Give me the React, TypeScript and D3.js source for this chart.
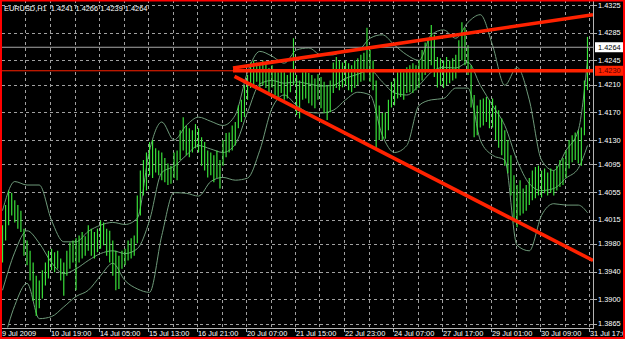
import React from "react";
import * as d3 from "d3";

const W = 625;
const H = 339;

const titleText = "EURUSD,H1  1.4241 1.4266 1.4239 1.4264";
const priceTicks = [1.4325, 1.4285, 1.4245, 1.421, 1.417, 1.413, 1.4095, 1.4055, 1.4015, 1.398, 1.394, 1.39, 1.3865];
const timeLabels = ["9 Jul 2009", "10 Jul 19:00", "14 Jul 05:00", "15 Jul 13:00", "16 Jul 21:00", "20 Jul 07:00", "21 Jul 15:00", "22 Jul 23:00", "24 Jul 07:00", "27 Jul 17:00", "29 Jul 01:00", "30 Jul 09:00", "31 Jul 17:00"];
const timeLabelBars = [0, 32, 64, 96, 128, 160, 192, 224, 256, 288, 320, 352, 384];
const bidPrice = 1.4264;
const hLinePrice = 1.423;

// H1 bars, every second bar (bar index = 2i+1)
const highs = [
  1.4007, 1.4036, 1.4057, 1.4054, 1.4043, 1.4036, 1.4028, 1.4002, 1.3985, 1.397,
  1.3953, 1.3934, 1.3927, 1.3942, 1.3953, 1.397, 1.3973, 1.3968, 1.397, 1.3959,
  1.3953, 1.397, 1.3982, 1.3985, 1.3988, 1.3992, 1.3997, 1.3991, 1.4007, 1.4002,
  1.3997, 1.4002, 1.4014, 1.4011, 1.4002, 1.3999, 1.3985, 1.397, 1.3963, 1.397,
  1.3973, 1.3985, 1.3988, 1.3992, 1.405, 1.4086, 1.4101, 1.4112, 1.4127, 1.413,
  1.4118, 1.4115, 1.4112, 1.4104, 1.4096, 1.4093, 1.4112, 1.4115, 1.4144, 1.4163,
  1.4151, 1.4147, 1.4144, 1.4153, 1.4147, 1.4134, 1.4127, 1.4115, 1.4112, 1.4108,
  1.4115, 1.4101, 1.413, 1.414, 1.4141, 1.4151, 1.4156, 1.418, 1.4188, 1.4209,
  1.4224, 1.4242, 1.4245, 1.4242, 1.4238, 1.4245, 1.4241, 1.4234, 1.4238, 1.4231,
  1.4228, 1.4231, 1.4228, 1.4224, 1.4231, 1.4277, 1.4224, 1.4216, 1.4228, 1.4231,
  1.4227, 1.4224, 1.4219, 1.4225, 1.4221, 1.4214, 1.4209, 1.4216, 1.4242, 1.425,
  1.4245, 1.4242, 1.4245, 1.4241, 1.4238, 1.4245, 1.4248, 1.4253, 1.4256, 1.4292,
  1.426, 1.4245, 1.4216, 1.418, 1.4169, 1.417, 1.4188, 1.4214, 1.4219, 1.4228,
  1.4231, 1.4228, 1.4235, 1.4238, 1.4241, 1.4238, 1.4245, 1.426, 1.4271, 1.4274,
  1.4296, 1.4282, 1.425, 1.4248, 1.4245, 1.425, 1.4245, 1.4248, 1.4253, 1.4274,
  1.43, 1.4292, 1.4267, 1.4238, 1.4195, 1.418, 1.4188, 1.419, 1.4192, 1.4188,
  1.419, 1.418, 1.4173, 1.4161, 1.4144, 1.413, 1.4108, 1.4079, 1.4065, 1.4072,
  1.406, 1.4065, 1.4075, 1.4086, 1.4091, 1.4093, 1.4086, 1.4089, 1.4083, 1.4089,
  1.4086, 1.4093, 1.4101, 1.4104, 1.4115, 1.413, 1.4137, 1.4141, 1.4144, 1.4148,
  1.4216, 1.4279,
];
const lows = [
  1.3953, 1.3985, 1.4007, 1.4021, 1.4011, 1.4002, 1.3997, 1.3963, 1.3949, 1.3927,
  1.3898, 1.3876, 1.3887, 1.3901, 1.392, 1.393, 1.3942, 1.3939, 1.3944, 1.3927,
  1.3905, 1.3934, 1.3944, 1.3953, 1.3913, 1.3953, 1.3959, 1.3963, 1.397, 1.3963,
  1.3959, 1.3968, 1.3973, 1.3978, 1.3963, 1.3953, 1.3934, 1.3913, 1.3915, 1.3944,
  1.3949, 1.3956, 1.3959, 1.3963, 1.3981, 1.4021, 1.405, 1.4057, 1.4079, 1.4075,
  1.4083, 1.4079, 1.4072, 1.4069, 1.4065, 1.4067, 1.4075, 1.4072, 1.4101, 1.4115,
  1.4108, 1.4105, 1.4112, 1.4118, 1.4112, 1.4093, 1.4086, 1.4076, 1.4079, 1.4069,
  1.4075, 1.406, 1.4093, 1.4105, 1.4112, 1.4115, 1.4122, 1.4147, 1.4156, 1.4163,
  1.4188, 1.4205, 1.4209, 1.4214, 1.4202, 1.4209, 1.4205, 1.4199, 1.4206, 1.4195,
  1.4192, 1.4198, 1.4188, 1.419, 1.4199, 1.4209, 1.4166, 1.4161, 1.4188, 1.419,
  1.4183, 1.418, 1.4176, 1.4188, 1.4176, 1.4169, 1.4159, 1.417, 1.4198, 1.4205,
  1.4202, 1.4206, 1.4209, 1.4202, 1.4199, 1.4205, 1.4209, 1.4214, 1.4216, 1.4228,
  1.4214, 1.4202, 1.4119, 1.413, 1.413, 1.4132, 1.4144, 1.4177, 1.418, 1.419,
  1.4192, 1.4188, 1.4198, 1.4199, 1.4198, 1.4202, 1.4205, 1.4216, 1.4224, 1.4228,
  1.4238, 1.4221, 1.4206, 1.4209, 1.4205, 1.4209, 1.4212, 1.4216, 1.4219, 1.4228,
  1.4245, 1.4238, 1.4224, 1.4177, 1.4134, 1.4137, 1.4148, 1.4151, 1.4156, 1.4147,
  1.4148, 1.413, 1.4119, 1.4108, 1.4093, 1.4082, 1.405, 1.4011, 1.4004, 1.4021,
  1.4024, 1.4028, 1.4036, 1.4043, 1.4046, 1.405, 1.4047, 1.4053, 1.405, 1.4054,
  1.405, 1.4057, 1.4062, 1.4065, 1.4075, 1.4089, 1.4098, 1.4101, 1.4096, 1.4093,
  1.4137, 1.4202,
];

// Bollinger bands, sampled every 8 bars
const bbUpper = [
  1.4028, 1.407, 1.4065, 1.4065, 1.4014, 1.3983, 1.3983, 1.3998, 1.4007, 1.4011,
  1.4008, 1.4017, 1.4115, 1.4156, 1.413, 1.4151, 1.4163, 1.4157, 1.4151, 1.4166,
  1.4228, 1.4258, 1.4251, 1.4241, 1.426, 1.4263, 1.4253, 1.4253, 1.426, 1.426,
  1.4277, 1.4282, 1.4267, 1.4253, 1.4245, 1.4282, 1.4289, 1.4277, 1.43, 1.4311,
  1.4267, 1.4209, 1.4235, 1.4188, 1.4101, 1.4086, 1.4115, 1.4144, 1.4245,
];
const bbMiddle = [
  1.3913, 1.3968, 1.3999, 1.3981, 1.3953, 1.3937, 1.3944, 1.3956, 1.3966, 1.397,
  1.3966, 1.3973, 1.4014, 1.4083, 1.4092, 1.4108, 1.4122, 1.4117, 1.4112, 1.4124,
  1.417, 1.4211, 1.4216, 1.4212, 1.4214, 1.4211, 1.4208, 1.4209, 1.4219, 1.4225,
  1.4231, 1.4214, 1.4198, 1.4195, 1.4209, 1.4228, 1.4235, 1.4234, 1.4242, 1.4209,
  1.418, 1.4151, 1.4101, 1.4067, 1.4057, 1.406, 1.4075, 1.4089, 1.4122,
];
const bbLower = [
  1.3833, 1.3891, 1.3923, 1.3872, 1.3875, 1.3889, 1.3904, 1.3913, 1.3934, 1.3952,
  1.3927, 1.3915, 1.391, 1.3992, 1.4054, 1.4053, 1.4049, 1.407, 1.4076, 1.4072,
  1.4075, 1.4115, 1.4176, 1.4195, 1.418, 1.417, 1.4169, 1.4173, 1.4188, 1.4199,
  1.4195, 1.4137, 1.4112, 1.4122, 1.418, 1.4188, 1.419, 1.4205, 1.4205, 1.413,
  1.4108, 1.4101, 1.3978, 1.397, 1.4021, 1.4038, 1.4036, 1.4036, 1.4025,
];

// Trend lines drawn on the chart (bar index / price)
const trendStartBar = [151.5, 151.5, 152.5];
const trendStartPrice = [1.4234, 1.423, 1.4222];
const trendEndBar = [386.6, 386.6, 386.6];
const trendEndPrice = [1.4311, 1.423, 1.3956];

const FONT = "'Liberation Sans', Arial, sans-serif";

export default function App() {
  const plotL = 2;
  const plotR = 593;
  const plotT = 0;
  const plotB = 327.5;

  const x = d3.scaleLinear().domain([0, 384]).range([1, 589]);
  const y = d3.scaleLinear().domain([1.3865, 1.4325]).range([323.5, 5]);

  const bandBar = (k: number) => Math.min(1 + 8 * k, 383);
  const bandLine = d3
    .line<number>()
    .x((_, k) => x(bandBar(k)))
    .y((v) => y(v))
    .curve(d3.curveMonotoneX);

  const vGrid = d3.range(16, 385, 16);

  const bgColor = "#000000";
  const gridColor = "#a0a0a0";
  const bandColor = "#6f9a7a";
  const barColor = "#3be83b";
  const red = "#ff2200";

  return (
    <svg
      width={W}
      height={H}
      viewBox={`0 0 ${W} ${H}`}
      style={{ position: "absolute", left: 0, top: 0, display: "block" }}
    >
      <defs>
        <clipPath id="plot">
          <rect x={plotL} y={plotT} width={plotR - plotL} height={plotB - plotT} />
        </clipPath>
      </defs>
      <rect x={0} y={0} width={W} height={H} fill={bgColor} />

      {/* grid */}
      <g stroke={gridColor} strokeWidth={1} strokeDasharray="3,3" shapeRendering="crispEdges">
        {priceTicks.map((p) => (
          <line key={"h" + p} x1={plotL} x2={plotR} y1={Math.round(y(p)) + 0.5} y2={Math.round(y(p)) + 0.5} />
        ))}
        {vGrid.map((b) => (
          <line key={"v" + b} x1={Math.round(x(b)) + 0.5} x2={Math.round(x(b)) + 0.5} y1={plotT} y2={plotB} />
        ))}
      </g>

      <g clipPath="url(#plot)">
        {/* Bollinger bands */}
        <g fill="none" stroke={bandColor} strokeWidth={1}>
          <path d={bandLine(bbUpper) || ""} />
          <path d={bandLine(bbMiddle) || ""} />
          <path d={bandLine(bbLower) || ""} />
        </g>

        {/* price bars */}
        <g stroke={barColor} strokeWidth={1.15}>
          {highs.map((hi, i) => {
            const bx = x(2 * i + 1);
            return <line key={"b" + i} x1={bx} x2={bx} y1={y(hi)} y2={y(lows[i])} />;
          })}
        </g>

        {/* bid line */}
        <line x1={plotL} x2={plotR} y1={y(bidPrice)} y2={y(bidPrice)} stroke="#a8a8a8" strokeWidth={1.2} />
        {/* horizontal line object */}
        <line x1={plotL} x2={plotR} y1={y(hLinePrice)} y2={y(hLinePrice)} stroke={red} strokeWidth={1} />

        {/* trend lines */}
        <g stroke={red} strokeWidth={3.6} strokeLinecap="butt">
          {trendStartBar.map((b, i) => (
            <line
              key={"t" + i}
              x1={x(b)}
              y1={y(trendStartPrice[i])}
              x2={x(trendEndBar[i])}
              y2={y(trendEndPrice[i])}
            />
          ))}
        </g>
      </g>

      {/* axes */}
      <g stroke="#b4b4b4" strokeWidth={1} shapeRendering="crispEdges">
        <line x1={plotR + 0.5} x2={plotR + 0.5} y1={0} y2={plotB + 0.5} />
        <line x1={0} x2={plotR + 0.5} y1={plotB + 0.5} y2={plotB + 0.5} />
        {priceTicks.map((p) => (
          <line key={"rt" + p} x1={plotR} x2={plotR + 4} y1={Math.round(y(p)) + 0.5} y2={Math.round(y(p)) + 0.5} />
        ))}
        {timeLabelBars.slice(1).map((b) => (
          <line key={"bt" + b} x1={Math.round(x(b)) + 0.5} x2={Math.round(x(b)) + 0.5} y1={plotB} y2={plotB + 4} />
        ))}
      </g>

      {/* price labels */}
      <g fontFamily={FONT} fontSize={7.4} fill="#ffffff">
        {priceTicks.map((p) => (
          <text key={"pl" + p} x={598} y={y(p)} dy="0.35em">
            {p.toFixed(4)}
          </text>
        ))}
      </g>

      {/* bid label */}
      <rect x={595} y={y(bidPrice) - 5} width={28} height={10} fill="#ffffff" />
      <text x={598} y={y(bidPrice)} dy="0.35em" fontFamily={FONT} fontSize={7.4} fill="#000000">
        {bidPrice.toFixed(4)}
      </text>
      {/* horizontal line label */}
      <rect x={595} y={y(hLinePrice) - 5} width={28} height={10} fill={red} />
      <text x={598} y={y(hLinePrice)} dy="0.35em" fontFamily={FONT} fontSize={7.4} fill="#5a0000">
        {hLinePrice.toFixed(4)}
      </text>

      {/* time labels */}
      <g fontFamily={FONT} fontSize={7.4} fill="#ffffff">
        {timeLabels.map((t, i) => (
          <text key={"tl" + i} x={i === 0 ? 2 : x(timeLabelBars[i]) + 1} y={336}>
            {t}
          </text>
        ))}
      </g>

      {/* title */}
      <text x={4} y={10.5} fontFamily={FONT} fontSize={7.4} fill="#ffffff" style={{ whiteSpace: "pre" }}>
        {titleText}
      </text>

      {/* frame */}
      <rect x={1} y={0.5} width={W - 2} height={H - 1.5} fill="none" stroke="#ff0000" strokeWidth={2} />
    </svg>
  );
}
